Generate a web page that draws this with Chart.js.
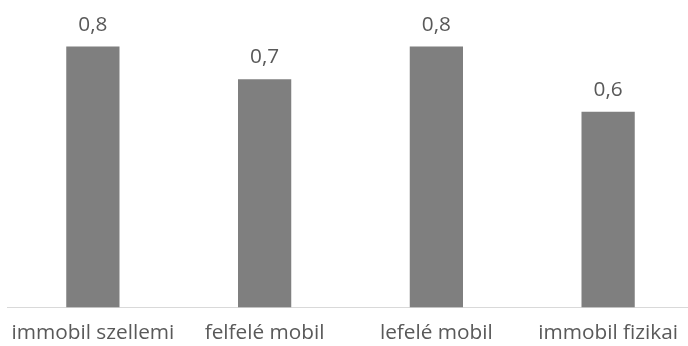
<!DOCTYPE html>
<html>
<head>
<meta charset="utf-8">
<script src="https://cdn.jsdelivr.net/npm/chart.js@4"></script>
<style>
  body { margin: 0; overflow: hidden; background: #fff; }
  #wrap { width: 694px; height: 346px; position: relative; }
</style>
</head>
<body>
<div id="wrap"><canvas id="bar-chart"></canvas></div>
<script>
// data
const categories = ['immobil szellemi', 'felfelé mobil', 'lefelé mobil', 'immobil fizikai'];
const values = [0.8, 0.7, 0.8, 0.6];
const yMax = 0.9;

const textColor = '#595959';
const fontFamily = '"Open Sans", "Noto Sans", sans-serif';
const fontSize = 20.8;

// value labels above the bars (comma decimals)
const valueLabels = {
    id: 'valueLabels',
    afterDatasetsDraw(chart) {
        const ctx = chart.ctx;
        const meta = chart.getDatasetMeta(0);
        ctx.save();
        ctx.font = fontSize + 'px ' + fontFamily;
        ctx.fillStyle = textColor;
        ctx.textAlign = 'center';
        ctx.textBaseline = 'alphabetic';
        meta.data.forEach((bar, i) => {
            const txt = values[i].toFixed(1).replace('.', ',');
            ctx.fillText(txt, bar.x, bar.y - 16);
        });
        ctx.restore();
    }
};

new Chart(document.getElementById('bar-chart'), {
    type: 'bar',
    data: {
        labels: categories,
        datasets: [{
            data: values,
            backgroundColor: '#7f7f7f',
            categoryPercentage: 1,
            barPercentage: 0.31
        }]
    },
    options: {
        responsive: true,
        maintainAspectRatio: false,
        animation: false,
        layout: { padding: { left: 7, right: 0, top: 14, bottom: 0 } },
        plugins: {
            legend: { display: false },
            tooltip: { enabled: false }
        },
        scales: {
            y: {
                display: false,
                min: 0,
                max: yMax
            },
            x: {
                afterFit(scale) { scale.height = 38.5; },
                grid: { display: false },
                border: { display: true, color: '#d9d9d9', width: 1 },
                ticks: {
                    color: textColor,
                    font: { size: fontSize, family: fontFamily },
                    padding: 5,
                    maxRotation: 0,
                    autoSkip: false
                }
            }
        }
    },
    plugins: [valueLabels]
});
</script>
</body>
</html>
